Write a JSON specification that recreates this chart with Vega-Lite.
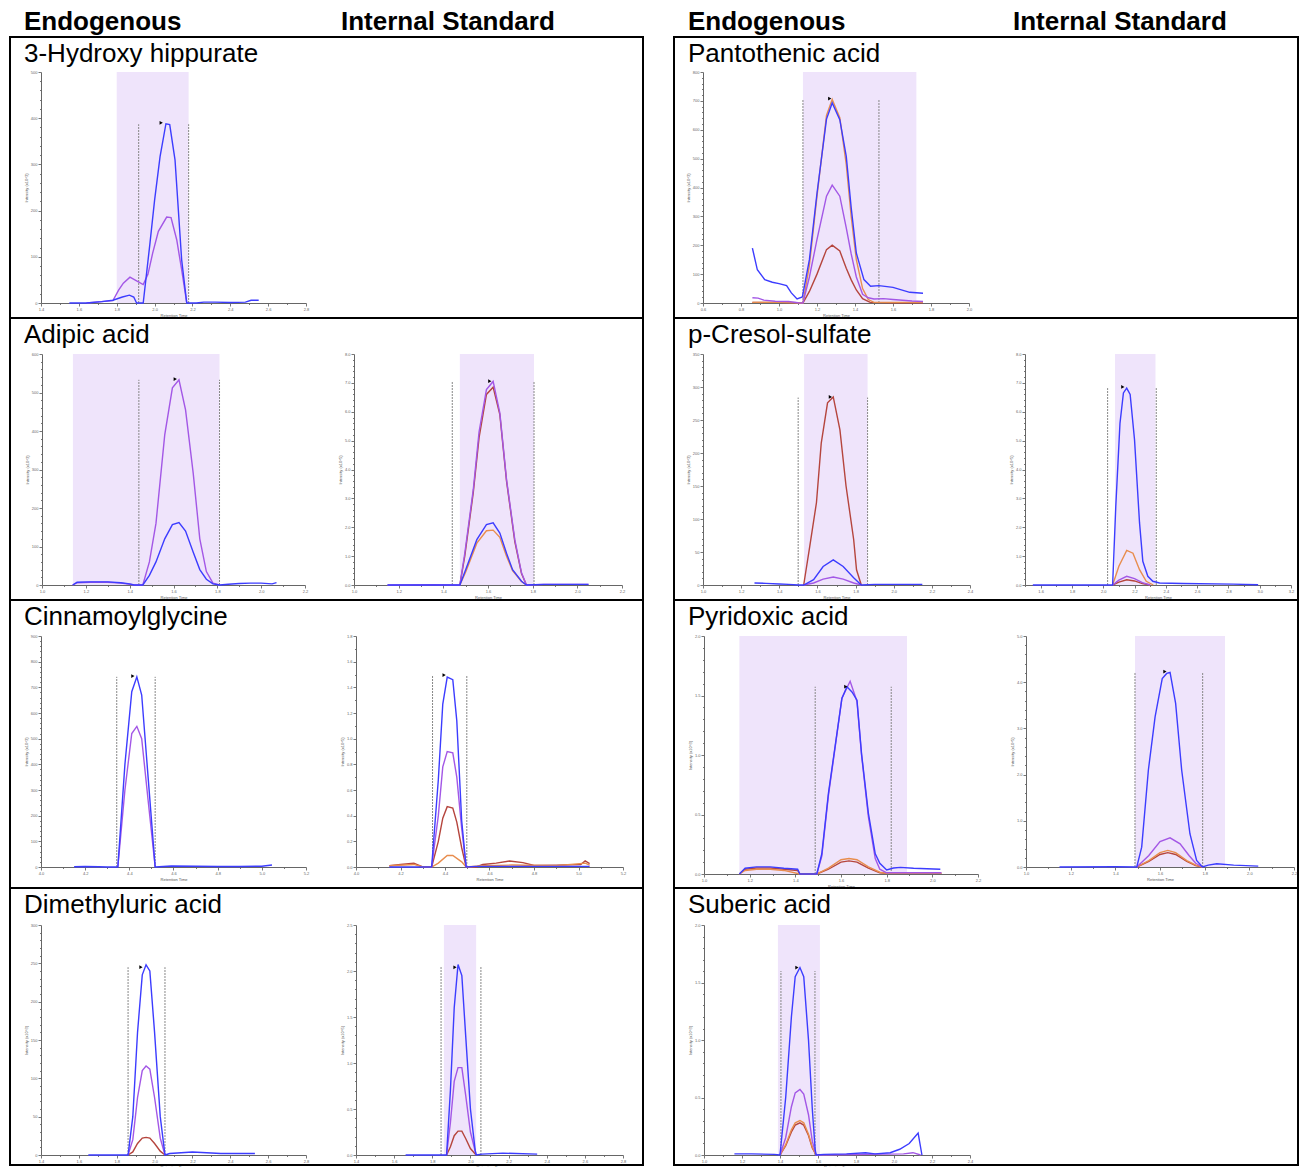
{
"$schema": "https://vega.github.io/schema/vega-lite/v6.json",
"background": "white",
"padding": {"left": 9, "top": 0, "right": 0, "bottom": 0},
"spacing": 29,
"bounds": "full",
"datasets": {
"shades": [
{"p":"L1","t":1.8,"t2":2.18,"v":0,"v2":500},
{"p":"R1","t":1.126,"t2":1.723,"v":0,"v2":800},
{"p":"L2","t":1.141,"t2":1.81,"v":0,"v2":600},
{"p":"L2b","t":1.474,"t2":1.806,"v":0,"v2":8},
{"p":"R2","t":1.53,"t2":1.863,"v":0,"v2":350},
{"p":"R2b","t":2.075,"t2":2.334,"v":0,"v2":8},
{"p":"R3","t":1.155,"t2":1.889,"v":0,"v2":2},
{"p":"R3b","t":1.488,"t2":1.891,"v":0,"v2":5},
{"p":"L4b","t":1.861,"t2":2.03,"v":0,"v2":2.5},
{"p":"R4","t":1.389,"t2":1.61,"v":0,"v2":2}
],
"rules": [
{"p":"L1","t":1.916,"v":0,"v2":387},{"p":"L1","t":2.18,"v":0,"v2":387},
{"p":"R1","t":1.126,"v":0,"v2":704},{"p":"R1","t":1.526,"v":0,"v2":704},
{"p":"L2","t":1.442,"v":0,"v2":533},{"p":"L2","t":1.81,"v":0,"v2":533},
{"p":"L2b","t":1.44,"v":0,"v2":7.05},{"p":"L2b","t":1.806,"v":0,"v2":7.05},
{"p":"R2","t":1.499,"v":0,"v2":284},{"p":"R2","t":1.863,"v":0,"v2":284},
{"p":"R2b","t":2.028,"v":0,"v2":6.82},{"p":"R2b","t":2.339,"v":0,"v2":6.82},
{"p":"L3","t":4.343,"v":0,"v2":741},{"p":"L3","t":4.517,"v":0,"v2":741},
{"p":"L3b","t":4.344,"v":0,"v2":1.49},{"p":"L3b","t":4.498,"v":0,"v2":1.49},
{"p":"R3","t":1.487,"v":0,"v2":1.574},{"p":"R3","t":1.82,"v":0,"v2":1.574},
{"p":"R3b","t":1.488,"v":0,"v2":4.21},{"p":"R3b","t":1.791,"v":0,"v2":4.21},
{"p":"L4","t":1.86,"v":0,"v2":245},{"p":"L4","t":2.055,"v":0,"v2":245},
{"p":"L4b","t":1.846,"v":0,"v2":2.05},{"p":"L4b","t":2.055,"v":0,"v2":2.05},
{"p":"R4","t":1.405,"v":0,"v2":1.6},{"p":"R4","t":1.584,"v":0,"v2":1.6}
],
"markers": [
{"p":"L1","t":2.035,"v":390},{"p":"R1","t":1.267,"v":708},{"p":"L2","t":1.608,"v":535},
{"p":"L2b","t":1.608,"v":7.06},{"p":"R2","t":1.668,"v":285},{"p":"R2b","t":2.125,"v":6.86},
{"p":"L3","t":4.416,"v":744},{"p":"L3b","t":4.396,"v":1.496},{"p":"R3","t":1.621,"v":1.574},
{"p":"R3b","t":1.622,"v":4.23},{"p":"L4","t":1.928,"v":245},{"p":"L4b","t":1.919,"v":2.04},
{"p":"R4","t":1.489,"v":1.63}
],
"traces": [
{"p":"L1","s":"p","t":1.64,"v":0},{"p":"L1","s":"p","t":1.72,"v":3},{"p":"L1","s":"p","t":1.78,"v":5},{"p":"L1","s":"p","t":1.81,"v":28},{"p":"L1","s":"p","t":1.835,"v":43},{"p":"L1","s":"p","t":1.87,"v":56},{"p":"L1","s":"p","t":1.905,"v":48},{"p":"L1","s":"p","t":1.94,"v":40},{"p":"L1","s":"p","t":1.965,"v":62},{"p":"L1","s":"p","t":1.99,"v":108},{"p":"L1","s":"p","t":2.02,"v":155},{"p":"L1","s":"p","t":2.064,"v":186},{"p":"L1","s":"p","t":2.087,"v":185},{"p":"L1","s":"p","t":2.117,"v":137},{"p":"L1","s":"p","t":2.143,"v":72},{"p":"L1","s":"p","t":2.17,"v":0},
{"p":"L1","s":"b","t":1.55,"v":0},{"p":"L1","s":"b","t":1.64,"v":0},{"p":"L1","s":"b","t":1.72,"v":3},{"p":"L1","s":"b","t":1.78,"v":6},{"p":"L1","s":"b","t":1.83,"v":13},{"p":"L1","s":"b","t":1.867,"v":17},{"p":"L1","s":"b","t":1.89,"v":13},{"p":"L1","s":"b","t":1.905,"v":0},{"p":"L1","s":"b","t":1.94,"v":0},{"p":"L1","s":"b","t":1.975,"v":127},{"p":"L1","s":"b","t":2.0,"v":222},{"p":"L1","s":"b","t":2.029,"v":317},{"p":"L1","s":"b","t":2.06,"v":388},{"p":"L1","s":"b","t":2.08,"v":386},{"p":"L1","s":"b","t":2.108,"v":310},{"p":"L1","s":"b","t":2.143,"v":94},{"p":"L1","s":"b","t":2.17,"v":0},{"p":"L1","s":"b","t":2.22,"v":0},{"p":"L1","s":"b","t":2.26,"v":2},{"p":"L1","s":"b","t":2.32,"v":2},{"p":"L1","s":"b","t":2.4,"v":1},{"p":"L1","s":"b","t":2.48,"v":2},{"p":"L1","s":"b","t":2.51,"v":6},{"p":"L1","s":"b","t":2.55,"v":6},

{"p":"R1","s":"r","t":0.86,"v":2},{"p":"R1","s":"r","t":1.0,"v":2},{"p":"R1","s":"r","t":1.1,"v":1},{"p":"R1","s":"r","t":1.126,"v":0},{"p":"R1","s":"r","t":1.16,"v":40},{"p":"R1","s":"r","t":1.2,"v":100},{"p":"R1","s":"r","t":1.25,"v":185},{"p":"R1","s":"r","t":1.28,"v":200},{"p":"R1","s":"r","t":1.32,"v":180},{"p":"R1","s":"r","t":1.354,"v":120},{"p":"R1","s":"r","t":1.38,"v":80},{"p":"R1","s":"r","t":1.407,"v":45},{"p":"R1","s":"r","t":1.44,"v":15},{"p":"R1","s":"r","t":1.48,"v":2},{"p":"R1","s":"r","t":1.6,"v":1},{"p":"R1","s":"r","t":1.758,"v":1},
{"p":"R1","s":"o","t":0.86,"v":2},{"p":"R1","s":"o","t":1.0,"v":2},{"p":"R1","s":"o","t":1.1,"v":1},{"p":"R1","s":"o","t":1.126,"v":0},{"p":"R1","s":"o","t":1.16,"v":130},{"p":"R1","s":"o","t":1.2,"v":370},{"p":"R1","s":"o","t":1.25,"v":650},{"p":"R1","s":"o","t":1.28,"v":705},{"p":"R1","s":"o","t":1.32,"v":642},{"p":"R1","s":"o","t":1.354,"v":480},{"p":"R1","s":"o","t":1.38,"v":300},{"p":"R1","s":"o","t":1.407,"v":150},{"p":"R1","s":"o","t":1.44,"v":50},{"p":"R1","s":"o","t":1.47,"v":12},{"p":"R1","s":"o","t":1.5,"v":2},{"p":"R1","s":"o","t":1.6,"v":2},{"p":"R1","s":"o","t":1.758,"v":2},
{"p":"R1","s":"p","t":0.86,"v":18},{"p":"R1","s":"p","t":0.89,"v":17},{"p":"R1","s":"p","t":0.92,"v":10},{"p":"R1","s":"p","t":0.98,"v":6},{"p":"R1","s":"p","t":1.05,"v":5},{"p":"R1","s":"p","t":1.1,"v":1},{"p":"R1","s":"p","t":1.126,"v":0},{"p":"R1","s":"p","t":1.16,"v":90},{"p":"R1","s":"p","t":1.2,"v":220},{"p":"R1","s":"p","t":1.25,"v":370},{"p":"R1","s":"p","t":1.28,"v":408},{"p":"R1","s":"p","t":1.32,"v":370},{"p":"R1","s":"p","t":1.354,"v":260},{"p":"R1","s":"p","t":1.38,"v":170},{"p":"R1","s":"p","t":1.407,"v":90},{"p":"R1","s":"p","t":1.44,"v":30},{"p":"R1","s":"p","t":1.47,"v":18},{"p":"R1","s":"p","t":1.5,"v":14},{"p":"R1","s":"p","t":1.55,"v":15},{"p":"R1","s":"p","t":1.6,"v":12},{"p":"R1","s":"p","t":1.7,"v":7},{"p":"R1","s":"p","t":1.758,"v":5},
{"p":"R1","s":"b","t":0.86,"v":190},{"p":"R1","s":"b","t":0.886,"v":115},{"p":"R1","s":"b","t":0.925,"v":81},{"p":"R1","s":"b","t":0.965,"v":72},{"p":"R1","s":"b","t":1.0,"v":67},{"p":"R1","s":"b","t":1.04,"v":60},{"p":"R1","s":"b","t":1.065,"v":35},{"p":"R1","s":"b","t":1.095,"v":14},{"p":"R1","s":"b","t":1.123,"v":21},{"p":"R1","s":"b","t":1.16,"v":150},{"p":"R1","s":"b","t":1.2,"v":380},{"p":"R1","s":"b","t":1.25,"v":637},{"p":"R1","s":"b","t":1.28,"v":693},{"p":"R1","s":"b","t":1.32,"v":635},{"p":"R1","s":"b","t":1.354,"v":508},{"p":"R1","s":"b","t":1.38,"v":330},{"p":"R1","s":"b","t":1.407,"v":173},{"p":"R1","s":"b","t":1.447,"v":81},{"p":"R1","s":"b","t":1.482,"v":58},{"p":"R1","s":"b","t":1.526,"v":60},{"p":"R1","s":"b","t":1.6,"v":54},{"p":"R1","s":"b","t":1.688,"v":37},{"p":"R1","s":"b","t":1.758,"v":34},

{"p":"L2","s":"p","t":1.14,"v":0},{"p":"L2","s":"p","t":1.16,"v":6},{"p":"L2","s":"p","t":1.22,"v":7},{"p":"L2","s":"p","t":1.3,"v":7},{"p":"L2","s":"p","t":1.36,"v":5},{"p":"L2","s":"p","t":1.4,"v":2},{"p":"L2","s":"p","t":1.42,"v":0},{"p":"L2","s":"p","t":1.46,"v":0},{"p":"L2","s":"p","t":1.49,"v":60},{"p":"L2","s":"p","t":1.52,"v":160},{"p":"L2","s":"p","t":1.56,"v":390},{"p":"L2","s":"p","t":1.595,"v":512},{"p":"L2","s":"p","t":1.625,"v":533},{"p":"L2","s":"p","t":1.655,"v":455},{"p":"L2","s":"p","t":1.69,"v":290},{"p":"L2","s":"p","t":1.72,"v":120},{"p":"L2","s":"p","t":1.75,"v":35},{"p":"L2","s":"p","t":1.78,"v":5},{"p":"L2","s":"p","t":1.81,"v":0},
{"p":"L2","s":"b","t":1.14,"v":0},{"p":"L2","s":"b","t":1.16,"v":7},{"p":"L2","s":"b","t":1.22,"v":8},{"p":"L2","s":"b","t":1.3,"v":8},{"p":"L2","s":"b","t":1.36,"v":6},{"p":"L2","s":"b","t":1.4,"v":3},{"p":"L2","s":"b","t":1.42,"v":0},{"p":"L2","s":"b","t":1.46,"v":0},{"p":"L2","s":"b","t":1.49,"v":25},{"p":"L2","s":"b","t":1.52,"v":60},{"p":"L2","s":"b","t":1.56,"v":120},{"p":"L2","s":"b","t":1.595,"v":157},{"p":"L2","s":"b","t":1.625,"v":162},{"p":"L2","s":"b","t":1.655,"v":140},{"p":"L2","s":"b","t":1.69,"v":85},{"p":"L2","s":"b","t":1.72,"v":40},{"p":"L2","s":"b","t":1.75,"v":15},{"p":"L2","s":"b","t":1.78,"v":3},{"p":"L2","s":"b","t":1.81,"v":0},{"p":"L2","s":"b","t":1.85,"v":2},{"p":"L2","s":"b","t":1.9,"v":4},{"p":"L2","s":"b","t":1.95,"v":5},{"p":"L2","s":"b","t":2.0,"v":5},{"p":"L2","s":"b","t":2.05,"v":3},{"p":"L2","s":"b","t":2.07,"v":6},

{"p":"L2b","s":"r","t":1.474,"v":0},{"p":"L2b","s":"r","t":1.496,"v":1.0},{"p":"L2b","s":"r","t":1.534,"v":3.2},{"p":"L2b","s":"r","t":1.56,"v":5.1},{"p":"L2b","s":"r","t":1.593,"v":6.6},{"p":"L2b","s":"r","t":1.623,"v":6.85},{"p":"L2b","s":"r","t":1.653,"v":5.9},{"p":"L2b","s":"r","t":1.683,"v":3.6},{"p":"L2b","s":"r","t":1.72,"v":1.5},{"p":"L2b","s":"r","t":1.75,"v":0.4},{"p":"L2b","s":"r","t":1.772,"v":0},
{"p":"L2b","s":"o","t":1.474,"v":0},{"p":"L2b","s":"o","t":1.5,"v":0.45},{"p":"L2b","s":"o","t":1.55,"v":1.45},{"p":"L2b","s":"o","t":1.593,"v":1.88},{"p":"L2b","s":"o","t":1.623,"v":1.9},{"p":"L2b","s":"o","t":1.653,"v":1.65},{"p":"L2b","s":"o","t":1.683,"v":1.0},{"p":"L2b","s":"o","t":1.71,"v":0.5},{"p":"L2b","s":"o","t":1.75,"v":0.12},{"p":"L2b","s":"o","t":1.772,"v":0},
{"p":"L2b","s":"p","t":1.15,"v":0},{"p":"L2b","s":"p","t":1.35,"v":0.01},{"p":"L2b","s":"p","t":1.474,"v":0},{"p":"L2b","s":"p","t":1.496,"v":1.1},{"p":"L2b","s":"p","t":1.534,"v":3.3},{"p":"L2b","s":"p","t":1.56,"v":5.3},{"p":"L2b","s":"p","t":1.593,"v":6.77},{"p":"L2b","s":"p","t":1.623,"v":7.05},{"p":"L2b","s":"p","t":1.653,"v":5.96},{"p":"L2b","s":"p","t":1.683,"v":3.65},{"p":"L2b","s":"p","t":1.72,"v":1.57},{"p":"L2b","s":"p","t":1.75,"v":0.42},{"p":"L2b","s":"p","t":1.772,"v":0},{"p":"L2b","s":"p","t":1.85,"v":0.02},{"p":"L2b","s":"p","t":2.05,"v":0.02},
{"p":"L2b","s":"b","t":1.15,"v":0},{"p":"L2b","s":"b","t":1.35,"v":0},{"p":"L2b","s":"b","t":1.474,"v":0},{"p":"L2b","s":"b","t":1.5,"v":0.53},{"p":"L2b","s":"b","t":1.55,"v":1.57},{"p":"L2b","s":"b","t":1.593,"v":2.09},{"p":"L2b","s":"b","t":1.623,"v":2.15},{"p":"L2b","s":"b","t":1.653,"v":1.8},{"p":"L2b","s":"b","t":1.683,"v":1.1},{"p":"L2b","s":"b","t":1.71,"v":0.53},{"p":"L2b","s":"b","t":1.75,"v":0.13},{"p":"L2b","s":"b","t":1.772,"v":0},{"p":"L2b","s":"b","t":1.85,"v":0.02},{"p":"L2b","s":"b","t":2.05,"v":0.02},

{"p":"R2","s":"r","t":1.528,"v":0},{"p":"R2","s":"r","t":1.56,"v":59},{"p":"R2","s":"r","t":1.595,"v":125},{"p":"R2","s":"r","t":1.62,"v":215},{"p":"R2","s":"r","t":1.653,"v":276},{"p":"R2","s":"r","t":1.683,"v":285},{"p":"R2","s":"r","t":1.718,"v":235},{"p":"R2","s":"r","t":1.75,"v":150},{"p":"R2","s":"r","t":1.79,"v":69},{"p":"R2","s":"r","t":1.805,"v":23},{"p":"R2","s":"r","t":1.83,"v":0},
{"p":"R2","s":"p","t":1.528,"v":0},{"p":"R2","s":"p","t":1.58,"v":3},{"p":"R2","s":"p","t":1.63,"v":9},{"p":"R2","s":"p","t":1.683,"v":12},{"p":"R2","s":"p","t":1.735,"v":9},{"p":"R2","s":"p","t":1.79,"v":3},{"p":"R2","s":"p","t":1.83,"v":0},
{"p":"R2","s":"b","t":1.27,"v":3},{"p":"R2","s":"b","t":1.33,"v":2.5},{"p":"R2","s":"b","t":1.4,"v":1.5},{"p":"R2","s":"b","t":1.45,"v":1},{"p":"R2","s":"b","t":1.5,"v":0},{"p":"R2","s":"b","t":1.528,"v":0},{"p":"R2","s":"b","t":1.58,"v":8},{"p":"R2","s":"b","t":1.63,"v":28},{"p":"R2","s":"b","t":1.683,"v":38},{"p":"R2","s":"b","t":1.735,"v":28},{"p":"R2","s":"b","t":1.79,"v":11},{"p":"R2","s":"b","t":1.83,"v":0},{"p":"R2","s":"b","t":1.9,"v":1},{"p":"R2","s":"b","t":2.0,"v":1},{"p":"R2","s":"b","t":2.15,"v":1},

{"p":"R2b","s":"r","t":2.06,"v":0},{"p":"R2b","s":"r","t":2.1,"v":0.1},{"p":"R2b","s":"r","t":2.15,"v":0.18},{"p":"R2b","s":"r","t":2.2,"v":0.14},{"p":"R2b","s":"r","t":2.25,"v":0.05},{"p":"R2b","s":"r","t":2.3,"v":0},
{"p":"R2b","s":"o","t":2.06,"v":0},{"p":"R2b","s":"o","t":2.1,"v":0.65},{"p":"R2b","s":"o","t":2.15,"v":1.2},{"p":"R2b","s":"o","t":2.19,"v":1.1},{"p":"R2b","s":"o","t":2.232,"v":0.53},{"p":"R2b","s":"o","t":2.275,"v":0.13},{"p":"R2b","s":"o","t":2.32,"v":0},
{"p":"R2b","s":"p","t":2.06,"v":0},{"p":"R2b","s":"p","t":2.1,"v":0.17},{"p":"R2b","s":"p","t":2.15,"v":0.3},{"p":"R2b","s":"p","t":2.2,"v":0.22},{"p":"R2b","s":"p","t":2.25,"v":0.08},{"p":"R2b","s":"p","t":2.3,"v":0},
{"p":"R2b","s":"b","t":1.55,"v":0},{"p":"R2b","s":"b","t":2.06,"v":0},{"p":"R2b","s":"b","t":2.08,"v":2.7},{"p":"R2b","s":"b","t":2.107,"v":5.6},{"p":"R2b","s":"b","t":2.129,"v":6.65},{"p":"R2b","s":"b","t":2.15,"v":6.82},{"p":"R2b","s":"b","t":2.172,"v":6.6},{"p":"R2b","s":"b","t":2.2,"v":5.03},{"p":"R2b","s":"b","t":2.232,"v":2.15},{"p":"R2b","s":"b","t":2.253,"v":0.82},{"p":"R2b","s":"b","t":2.285,"v":0.3},{"p":"R2b","s":"b","t":2.317,"v":0.13},{"p":"R2b","s":"b","t":2.36,"v":0.07},{"p":"R2b","s":"b","t":2.51,"v":0.05},{"p":"R2b","s":"b","t":2.83,"v":0.03},{"p":"R2b","s":"b","t":2.99,"v":0.01},

{"p":"L3","s":"p","t":4.348,"v":0},{"p":"L3","s":"p","t":4.38,"v":300},{"p":"L3","s":"p","t":4.411,"v":520},{"p":"L3","s":"p","t":4.434,"v":548},{"p":"L3","s":"p","t":4.456,"v":500},{"p":"L3","s":"p","t":4.485,"v":260},{"p":"L3","s":"p","t":4.517,"v":0},
{"p":"L3","s":"b","t":4.15,"v":1},{"p":"L3","s":"b","t":4.2,"v":2},{"p":"L3","s":"b","t":4.26,"v":1},{"p":"L3","s":"b","t":4.3,"v":0},{"p":"L3","s":"b","t":4.348,"v":0},{"p":"L3","s":"b","t":4.38,"v":400},{"p":"L3","s":"b","t":4.411,"v":683},{"p":"L3","s":"b","t":4.434,"v":741},{"p":"L3","s":"b","t":4.456,"v":670},{"p":"L3","s":"b","t":4.485,"v":350},{"p":"L3","s":"b","t":4.517,"v":0},{"p":"L3","s":"b","t":4.59,"v":4},{"p":"L3","s":"b","t":4.7,"v":3},{"p":"L3","s":"b","t":4.8,"v":2},{"p":"L3","s":"b","t":4.9,"v":2},{"p":"L3","s":"b","t":5.0,"v":3},{"p":"L3","s":"b","t":5.046,"v":8},

{"p":"L3b","s":"r","t":4.15,"v":0.01},{"p":"L3b","s":"r","t":4.2,"v":0.02},{"p":"L3b","s":"r","t":4.26,"v":0.03},{"p":"L3b","s":"r","t":4.3,"v":0},{"p":"L3b","s":"r","t":4.34,"v":0},{"p":"L3b","s":"r","t":4.37,"v":0.2},{"p":"L3b","s":"r","t":4.39,"v":0.38},{"p":"L3b","s":"r","t":4.41,"v":0.47},{"p":"L3b","s":"r","t":4.435,"v":0.46},{"p":"L3b","s":"r","t":4.453,"v":0.35},{"p":"L3b","s":"r","t":4.475,"v":0.15},{"p":"L3b","s":"r","t":4.495,"v":0},{"p":"L3b","s":"r","t":4.54,"v":0},{"p":"L3b","s":"r","t":4.57,"v":0.02},{"p":"L3b","s":"r","t":4.63,"v":0.03},{"p":"L3b","s":"r","t":4.69,"v":0.047},{"p":"L3b","s":"r","t":4.75,"v":0.034},{"p":"L3b","s":"r","t":4.8,"v":0.013},{"p":"L3b","s":"r","t":4.9,"v":0.015},{"p":"L3b","s":"r","t":5.01,"v":0.02},{"p":"L3b","s":"r","t":5.03,"v":0.047},{"p":"L3b","s":"r","t":5.05,"v":0.026},
{"p":"L3b","s":"o","t":4.15,"v":0.01},{"p":"L3b","s":"o","t":4.26,"v":0.02},{"p":"L3b","s":"o","t":4.3,"v":0},{"p":"L3b","s":"o","t":4.34,"v":0},{"p":"L3b","s":"o","t":4.37,"v":0.03},{"p":"L3b","s":"o","t":4.41,"v":0.09},{"p":"L3b","s":"o","t":4.435,"v":0.09},{"p":"L3b","s":"o","t":4.475,"v":0.04},{"p":"L3b","s":"o","t":4.495,"v":0},{"p":"L3b","s":"o","t":4.57,"v":0.01},{"p":"L3b","s":"o","t":4.7,"v":0.015},{"p":"L3b","s":"o","t":4.9,"v":0.01},{"p":"L3b","s":"o","t":5.03,"v":0.03},{"p":"L3b","s":"o","t":5.05,"v":0.015},
{"p":"L3b","s":"p","t":4.34,"v":0},{"p":"L3b","s":"p","t":4.37,"v":0.4},{"p":"L3b","s":"p","t":4.39,"v":0.78},{"p":"L3b","s":"p","t":4.41,"v":0.9},{"p":"L3b","s":"p","t":4.435,"v":0.89},{"p":"L3b","s":"p","t":4.453,"v":0.7},{"p":"L3b","s":"p","t":4.475,"v":0.3},{"p":"L3b","s":"p","t":4.495,"v":0},
{"p":"L3b","s":"b","t":4.15,"v":0},{"p":"L3b","s":"b","t":4.3,"v":0},{"p":"L3b","s":"b","t":4.34,"v":0},{"p":"L3b","s":"b","t":4.37,"v":0.68},{"p":"L3b","s":"b","t":4.39,"v":1.27},{"p":"L3b","s":"b","t":4.41,"v":1.48},{"p":"L3b","s":"b","t":4.435,"v":1.46},{"p":"L3b","s":"b","t":4.453,"v":1.14},{"p":"L3b","s":"b","t":4.475,"v":0.36},{"p":"L3b","s":"b","t":4.495,"v":0},{"p":"L3b","s":"b","t":4.54,"v":0.005},{"p":"L3b","s":"b","t":5.05,"v":0.005},

{"p":"R3","s":"r","t":1.155,"v":0},{"p":"R3","s":"r","t":1.18,"v":0.04},{"p":"R3","s":"r","t":1.23,"v":0.05},{"p":"R3","s":"r","t":1.29,"v":0.05},{"p":"R3","s":"r","t":1.35,"v":0.04},{"p":"R3","s":"r","t":1.41,"v":0.03},{"p":"R3","s":"r","t":1.42,"v":0},{"p":"R3","s":"r","t":1.494,"v":0},{"p":"R3","s":"r","t":1.545,"v":0.04},{"p":"R3","s":"r","t":1.6,"v":0.1},{"p":"R3","s":"r","t":1.635,"v":0.11},{"p":"R3","s":"r","t":1.67,"v":0.1},{"p":"R3","s":"r","t":1.72,"v":0.05},{"p":"R3","s":"r","t":1.77,"v":0.01},{"p":"R3","s":"r","t":1.8,"v":0.005},{"p":"R3","s":"r","t":2.04,"v":0.005},
{"p":"R3","s":"o","t":1.155,"v":0},{"p":"R3","s":"o","t":1.18,"v":0.03},{"p":"R3","s":"o","t":1.23,"v":0.04},{"p":"R3","s":"o","t":1.29,"v":0.04},{"p":"R3","s":"o","t":1.35,"v":0.03},{"p":"R3","s":"o","t":1.42,"v":0},{"p":"R3","s":"o","t":1.494,"v":0},{"p":"R3","s":"o","t":1.545,"v":0.05},{"p":"R3","s":"o","t":1.6,"v":0.12},{"p":"R3","s":"o","t":1.635,"v":0.13},{"p":"R3","s":"o","t":1.67,"v":0.12},{"p":"R3","s":"o","t":1.72,"v":0.06},{"p":"R3","s":"o","t":1.77,"v":0.015},{"p":"R3","s":"o","t":1.8,"v":0.005},{"p":"R3","s":"o","t":2.04,"v":0.005},
{"p":"R3","s":"p","t":1.494,"v":0},{"p":"R3","s":"p","t":1.516,"v":0.15},{"p":"R3","s":"p","t":1.545,"v":0.66},{"p":"R3","s":"p","t":1.574,"v":1.06},{"p":"R3","s":"p","t":1.604,"v":1.48},{"p":"R3","s":"p","t":1.64,"v":1.62},{"p":"R3","s":"p","t":1.67,"v":1.45},{"p":"R3","s":"p","t":1.69,"v":1.0},{"p":"R3","s":"p","t":1.72,"v":0.48},{"p":"R3","s":"p","t":1.75,"v":0.13},{"p":"R3","s":"p","t":1.77,"v":0.04},{"p":"R3","s":"p","t":1.8,"v":0.01},{"p":"R3","s":"p","t":1.9,"v":0.01},{"p":"R3","s":"p","t":2.04,"v":0.01},
{"p":"R3","s":"b","t":1.155,"v":0},{"p":"R3","s":"b","t":1.18,"v":0.048},{"p":"R3","s":"b","t":1.23,"v":0.06},{"p":"R3","s":"b","t":1.29,"v":0.06},{"p":"R3","s":"b","t":1.35,"v":0.048},{"p":"R3","s":"b","t":1.41,"v":0.04},{"p":"R3","s":"b","t":1.42,"v":0},{"p":"R3","s":"b","t":1.494,"v":0},{"p":"R3","s":"b","t":1.516,"v":0.17},{"p":"R3","s":"b","t":1.545,"v":0.68},{"p":"R3","s":"b","t":1.574,"v":1.07},{"p":"R3","s":"b","t":1.604,"v":1.476},{"p":"R3","s":"b","t":1.626,"v":1.574},{"p":"R3","s":"b","t":1.648,"v":1.53},{"p":"R3","s":"b","t":1.67,"v":1.46},{"p":"R3","s":"b","t":1.69,"v":1.01},{"p":"R3","s":"b","t":1.72,"v":0.51},{"p":"R3","s":"b","t":1.75,"v":0.17},{"p":"R3","s":"b","t":1.77,"v":0.09},{"p":"R3","s":"b","t":1.8,"v":0.034},{"p":"R3","s":"b","t":1.83,"v":0.05},{"p":"R3","s":"b","t":1.86,"v":0.056},{"p":"R3","s":"b","t":1.918,"v":0.048},{"p":"R3","s":"b","t":2.035,"v":0.04},

{"p":"R3b","s":"r","t":1.496,"v":0},{"p":"R3b","s":"r","t":1.55,"v":0.12},{"p":"R3b","s":"r","t":1.6,"v":0.27},{"p":"R3b","s":"r","t":1.635,"v":0.31},{"p":"R3b","s":"r","t":1.67,"v":0.27},{"p":"R3b","s":"r","t":1.72,"v":0.12},{"p":"R3b","s":"r","t":1.76,"v":0.03},{"p":"R3b","s":"r","t":1.79,"v":0},
{"p":"R3b","s":"o","t":1.496,"v":0},{"p":"R3b","s":"o","t":1.55,"v":0.14},{"p":"R3b","s":"o","t":1.6,"v":0.31},{"p":"R3b","s":"o","t":1.635,"v":0.36},{"p":"R3b","s":"o","t":1.67,"v":0.31},{"p":"R3b","s":"o","t":1.72,"v":0.14},{"p":"R3b","s":"o","t":1.76,"v":0.04},{"p":"R3b","s":"o","t":1.79,"v":0},
{"p":"R3b","s":"p","t":1.496,"v":0},{"p":"R3b","s":"p","t":1.55,"v":0.25},{"p":"R3b","s":"p","t":1.6,"v":0.55},{"p":"R3b","s":"p","t":1.645,"v":0.63},{"p":"R3b","s":"p","t":1.69,"v":0.5},{"p":"R3b","s":"p","t":1.73,"v":0.25},{"p":"R3b","s":"p","t":1.76,"v":0.08},{"p":"R3b","s":"p","t":1.79,"v":0},
{"p":"R3b","s":"b","t":1.15,"v":0},{"p":"R3b","s":"b","t":1.4,"v":0.005},{"p":"R3b","s":"b","t":1.496,"v":0},{"p":"R3b","s":"b","t":1.518,"v":0.43},{"p":"R3b","s":"b","t":1.548,"v":2.1},{"p":"R3b","s":"b","t":1.578,"v":3.25},{"p":"R3b","s":"b","t":1.61,"v":4.08},{"p":"R3b","s":"b","t":1.63,"v":4.19},{"p":"R3b","s":"b","t":1.645,"v":4.21},{"p":"R3b","s":"b","t":1.67,"v":3.54},{"p":"R3b","s":"b","t":1.697,"v":2.1},{"p":"R3b","s":"b","t":1.734,"v":0.72},{"p":"R3b","s":"b","t":1.764,"v":0.14},{"p":"R3b","s":"b","t":1.79,"v":0},{"p":"R3b","s":"b","t":1.816,"v":0.04},{"p":"R3b","s":"b","t":1.854,"v":0.07},{"p":"R3b","s":"b","t":1.93,"v":0.04},{"p":"R3b","s":"b","t":2.04,"v":0.02},

{"p":"L4","s":"r","t":1.86,"v":0},{"p":"L4","s":"r","t":1.885,"v":4},{"p":"L4","s":"r","t":1.91,"v":15},{"p":"L4","s":"r","t":1.935,"v":22},{"p":"L4","s":"r","t":1.955,"v":23},{"p":"L4","s":"r","t":1.975,"v":22},{"p":"L4","s":"r","t":2.0,"v":15},{"p":"L4","s":"r","t":2.03,"v":5},{"p":"L4","s":"r","t":2.055,"v":0},
{"p":"L4","s":"p","t":1.86,"v":0},{"p":"L4","s":"p","t":1.885,"v":20},{"p":"L4","s":"p","t":1.91,"v":75},{"p":"L4","s":"p","t":1.935,"v":110},{"p":"L4","s":"p","t":1.955,"v":116},{"p":"L4","s":"p","t":1.975,"v":112},{"p":"L4","s":"p","t":2.0,"v":75},{"p":"L4","s":"p","t":2.03,"v":22},{"p":"L4","s":"p","t":2.055,"v":0},
{"p":"L4","s":"b","t":1.65,"v":0},{"p":"L4","s":"b","t":1.86,"v":0},{"p":"L4","s":"b","t":1.885,"v":50},{"p":"L4","s":"b","t":1.91,"v":160},{"p":"L4","s":"b","t":1.935,"v":235},{"p":"L4","s":"b","t":1.955,"v":248},{"p":"L4","s":"b","t":1.975,"v":240},{"p":"L4","s":"b","t":2.0,"v":160},{"p":"L4","s":"b","t":2.03,"v":50},{"p":"L4","s":"b","t":2.055,"v":0},{"p":"L4","s":"b","t":2.08,"v":2},{"p":"L4","s":"b","t":2.2,"v":4},{"p":"L4","s":"b","t":2.35,"v":2},{"p":"L4","s":"b","t":2.53,"v":2},

{"p":"L4b","s":"r","t":1.875,"v":0},{"p":"L4b","s":"r","t":1.895,"v":0.09},{"p":"L4b","s":"r","t":1.915,"v":0.21},{"p":"L4b","s":"r","t":1.935,"v":0.26},{"p":"L4b","s":"r","t":1.955,"v":0.26},{"p":"L4b","s":"r","t":1.975,"v":0.18},{"p":"L4b","s":"r","t":2.0,"v":0.07},{"p":"L4b","s":"r","t":2.03,"v":0},
{"p":"L4b","s":"p","t":1.875,"v":0},{"p":"L4b","s":"p","t":1.895,"v":0.35},{"p":"L4b","s":"p","t":1.915,"v":0.8},{"p":"L4b","s":"p","t":1.935,"v":0.95},{"p":"L4b","s":"p","t":1.955,"v":0.95},{"p":"L4b","s":"p","t":1.975,"v":0.65},{"p":"L4b","s":"p","t":2.0,"v":0.25},{"p":"L4b","s":"p","t":2.03,"v":0},
{"p":"L4b","s":"b","t":1.66,"v":0},{"p":"L4b","s":"b","t":1.875,"v":0},{"p":"L4b","s":"b","t":1.895,"v":0.7},{"p":"L4b","s":"b","t":1.915,"v":1.6},{"p":"L4b","s":"b","t":1.935,"v":2.07},{"p":"L4b","s":"b","t":1.955,"v":1.95},{"p":"L4b","s":"b","t":1.975,"v":1.3},{"p":"L4b","s":"b","t":2.0,"v":0.5},{"p":"L4b","s":"b","t":2.025,"v":0.05},{"p":"L4b","s":"b","t":2.03,"v":0},{"p":"L4b","s":"b","t":2.06,"v":0.01},{"p":"L4b","s":"b","t":2.17,"v":0.02},{"p":"L4b","s":"b","t":2.35,"v":0.01},

{"p":"R4","s":"r","t":1.4,"v":0},{"p":"R4","s":"r","t":1.43,"v":0.08},{"p":"R4","s":"r","t":1.46,"v":0.2},{"p":"R4","s":"r","t":1.48,"v":0.26},{"p":"R4","s":"r","t":1.505,"v":0.28},{"p":"R4","s":"r","t":1.525,"v":0.26},{"p":"R4","s":"r","t":1.55,"v":0.17},{"p":"R4","s":"r","t":1.57,"v":0.06},{"p":"R4","s":"r","t":1.59,"v":0},
{"p":"R4","s":"o","t":1.4,"v":0},{"p":"R4","s":"o","t":1.43,"v":0.09},{"p":"R4","s":"o","t":1.46,"v":0.22},{"p":"R4","s":"o","t":1.48,"v":0.28},{"p":"R4","s":"o","t":1.505,"v":0.3},{"p":"R4","s":"o","t":1.525,"v":0.28},{"p":"R4","s":"o","t":1.55,"v":0.18},{"p":"R4","s":"o","t":1.57,"v":0.07},{"p":"R4","s":"o","t":1.59,"v":0},
{"p":"R4","s":"p","t":1.4,"v":0},{"p":"R4","s":"p","t":1.43,"v":0.15},{"p":"R4","s":"p","t":1.46,"v":0.42},{"p":"R4","s":"p","t":1.48,"v":0.54},{"p":"R4","s":"p","t":1.505,"v":0.57},{"p":"R4","s":"p","t":1.525,"v":0.53},{"p":"R4","s":"p","t":1.55,"v":0.35},{"p":"R4","s":"p","t":1.57,"v":0.12},{"p":"R4","s":"p","t":1.59,"v":0},{"p":"R4","s":"p","t":2.05,"v":0.01},{"p":"R4","s":"p","t":2.1,"v":0.02},{"p":"R4","s":"p","t":2.14,"v":0},
{"p":"R4","s":"b","t":1.16,"v":0.01},{"p":"R4","s":"b","t":1.25,"v":0.01},{"p":"R4","s":"b","t":1.37,"v":0.005},{"p":"R4","s":"b","t":1.4,"v":0},{"p":"R4","s":"b","t":1.43,"v":0.5},{"p":"R4","s":"b","t":1.46,"v":1.2},{"p":"R4","s":"b","t":1.48,"v":1.55},{"p":"R4","s":"b","t":1.505,"v":1.63},{"p":"R4","s":"b","t":1.525,"v":1.55},{"p":"R4","s":"b","t":1.55,"v":1.0},{"p":"R4","s":"b","t":1.57,"v":0.4},{"p":"R4","s":"b","t":1.585,"v":0.05},{"p":"R4","s":"b","t":1.59,"v":0},{"p":"R4","s":"b","t":1.63,"v":0.005},{"p":"R4","s":"b","t":1.75,"v":0.01},{"p":"R4","s":"b","t":1.85,"v":0.02},{"p":"R4","s":"b","t":1.9,"v":0.01},{"p":"R4","s":"b","t":1.98,"v":0.02},{"p":"R4","s":"b","t":2.03,"v":0.05},{"p":"R4","s":"b","t":2.08,"v":0.1},{"p":"R4","s":"b","t":2.127,"v":0.19},{"p":"R4","s":"b","t":2.147,"v":0}
]
},
"hconcat": [
{"vconcat": [
 {"width": 633, "height": 37, "view": {"stroke": null},
  "data": {"values": [{"h": "Endogenous"}, {"h": "Internal Standard"}]},
  "mark": {"type": "text", "align": "left", "baseline": "alphabetic", "dy": 11.5, "fontSize": 26, "font": "Liberation Sans", "fontWeight": "bold", "color": "#000"},
  "encoding": {"x": {"field": "h", "type": "nominal", "scale": {"type": "point", "domain": ["Endogenous", "Internal Standard"], "range": [14, 331], "padding": 0}, "axis": null}, "text": {"field": "h"}}},
 {"width": 633, "height": 281, "title": {"text": "3-Hydroxy hippurate"},
  "layer": [
   {"encoding": {
     "x": {"field": "t", "type": "quantitative", "scale": {"domain": [1.4, 2.8], "range": [31, 296], "nice": false, "zero": false}, "axis": {"orient": "bottom", "offset": -15, "tickCount": 14, "labelExpr": "abs(datum.value/0.2-round(datum.value/0.2))<0.001?datum.label:''", "tickSize": {"condition": {"test": "abs(datum.value/0.2-round(datum.value/0.2))<0.001", "value": 3}, "value": 1.5}, "title": "Retention Time"}},
     "y": {"field": "v", "type": "quantitative", "scale": {"domain": [0, 500], "range": [266, 35], "nice": false, "zero": false}, "axis": {"orient": "left", "offset": -31, "tickCount": 25, "labelExpr": "abs(datum.value/100-round(datum.value/100))<0.001?datum.label:''", "tickSize": {"condition": {"test": "abs(datum.value/100-round(datum.value/100))<0.001", "value": 3}, "value": 1.5}, "title": "Intensity (x10^3)"}}},
    "layer": [
     {"data": {"name": "shades"}, "transform": [{"filter": "datum.p==='L1'"}], "mark": {"type": "rect", "color": "#efe4fb"}, "encoding": {"x2": {"field": "t2"}, "y2": {"field": "v2"}}},
     {"data": {"name": "rules"}, "transform": [{"filter": "datum.p==='L1'"}], "mark": {"type": "rule", "color": "#888", "strokeWidth": 1, "strokeDash": [2, 1]}, "encoding": {"y2": {"field": "v2"}}},
     {"data": {"name": "traces"}, "transform": [{"filter": "datum.p==='L1'"}], "mark": {"type": "line", "strokeWidth": 1.4}, "encoding": {"color": {"field": "s", "type": "nominal", "scale": {"domain": ["r", "o", "p", "b"], "range": ["#b5453d", "#e88d4e", "#a357e6", "#3c3cff"]}, "legend": null}}},
     {"data": {"name": "markers"}, "transform": [{"filter": "datum.p==='L1'"}], "mark": {"type": "point", "shape": "triangle-right", "filled": true, "color": "#000", "size": 14, "opacity": 1}}
    ]}
  ]},
 {"width": 633, "height": 282, "title": {"text": "Adipic acid"},
  "resolve": {"scale": {"x": "independent", "y": "independent"}},
  "layer": [
   {"encoding": {
     "x": {"field": "t", "type": "quantitative", "scale": {"domain": [1.0, 2.2], "range": [32, 295], "nice": false, "zero": false}, "axis": {"orient": "bottom", "offset": -15, "tickCount": 12, "labelExpr": "abs(datum.value/0.2-round(datum.value/0.2))<0.001?datum.label:''", "tickSize": {"condition": {"test": "abs(datum.value/0.2-round(datum.value/0.2))<0.001", "value": 3}, "value": 1.5}, "title": "Retention Time"}},
     "y": {"field": "v", "type": "quantitative", "scale": {"domain": [0, 600], "range": [267, 36], "nice": false, "zero": false}, "axis": {"orient": "left", "offset": -32, "tickCount": 30, "labelExpr": "abs(datum.value/100-round(datum.value/100))<0.001?datum.label:''", "tickSize": {"condition": {"test": "abs(datum.value/100-round(datum.value/100))<0.001", "value": 3}, "value": 1.5}, "title": "Intensity (x10^3)"}}},
    "layer": [
     {"data": {"name": "shades"}, "transform": [{"filter": "datum.p==='L2'"}], "mark": {"type": "rect", "color": "#efe4fb"}, "encoding": {"x2": {"field": "t2"}, "y2": {"field": "v2"}}},
     {"data": {"name": "rules"}, "transform": [{"filter": "datum.p==='L2'"}], "mark": {"type": "rule", "color": "#888", "strokeWidth": 1, "strokeDash": [2, 1]}, "encoding": {"y2": {"field": "v2"}}},
     {"data": {"name": "traces"}, "transform": [{"filter": "datum.p==='L2'"}], "mark": {"type": "line", "strokeWidth": 1.4}, "encoding": {"color": {"field": "s", "type": "nominal", "scale": {"domain": ["r", "o", "p", "b"], "range": ["#b5453d", "#e88d4e", "#a357e6", "#3c3cff"]}, "legend": null}}},
     {"data": {"name": "markers"}, "transform": [{"filter": "datum.p==='L2'"}], "mark": {"type": "point", "shape": "triangle-right", "filled": true, "color": "#000", "size": 14, "opacity": 1}}
    ]},
   {"encoding": {
     "x": {"field": "t", "type": "quantitative", "scale": {"domain": [1.0, 2.2], "range": [344, 612], "nice": false, "zero": false}, "axis": {"orient": "bottom", "offset": -15, "tickCount": 12, "labelExpr": "abs(datum.value/0.2-round(datum.value/0.2))<0.001?datum.label:''", "tickSize": {"condition": {"test": "abs(datum.value/0.2-round(datum.value/0.2))<0.001", "value": 3}, "value": 1.5}, "title": "Retention Time"}},
     "y": {"field": "v", "type": "quantitative", "scale": {"domain": [0, 8], "range": [267, 36], "nice": false, "zero": false}, "axis": {"orient": "left", "offset": -344, "tickCount": 40, "labelExpr": "abs(datum.value/1-round(datum.value/1))<0.001?datum.label:''", "tickSize": {"condition": {"test": "abs(datum.value/1-round(datum.value/1))<0.001", "value": 3}, "value": 1.5}, "title": "Intensity (x10^5)"}}},
    "layer": [
     {"data": {"name": "shades"}, "transform": [{"filter": "datum.p==='L2b'"}], "mark": {"type": "rect", "color": "#efe4fb"}, "encoding": {"x2": {"field": "t2"}, "y2": {"field": "v2"}}},
     {"data": {"name": "rules"}, "transform": [{"filter": "datum.p==='L2b'"}], "mark": {"type": "rule", "color": "#888", "strokeWidth": 1, "strokeDash": [2, 1]}, "encoding": {"y2": {"field": "v2"}}},
     {"data": {"name": "traces"}, "transform": [{"filter": "datum.p==='L2b'"}], "mark": {"type": "line", "strokeWidth": 1.4}, "encoding": {"color": {"field": "s", "type": "nominal", "scale": {"domain": ["r", "o", "p", "b"], "range": ["#b5453d", "#e88d4e", "#a357e6", "#3c3cff"]}, "legend": null}}},
     {"data": {"name": "markers"}, "transform": [{"filter": "datum.p==='L2b'"}], "mark": {"type": "point", "shape": "triangle-right", "filled": true, "color": "#000", "size": 14, "opacity": 1}}
    ]}
  ]},
 {"width": 633, "height": 288, "title": {"text": "Cinnamoylglycine"},
  "resolve": {"scale": {"x": "independent", "y": "independent"}},
  "layer": [
   {"encoding": {
     "x": {"field": "t", "type": "quantitative", "scale": {"domain": [4.0, 5.2], "range": [31, 296], "nice": false, "zero": false}, "axis": {"orient": "bottom", "offset": -21, "tickCount": 12, "labelExpr": "abs(datum.value/0.2-round(datum.value/0.2))<0.001?datum.label:''", "tickSize": {"condition": {"test": "abs(datum.value/0.2-round(datum.value/0.2))<0.001", "value": 3}, "value": 1.5}, "title": "Retention Time"}},
     "y": {"field": "v", "type": "quantitative", "scale": {"domain": [0, 900], "range": [267, 36], "nice": false, "zero": false}, "axis": {"orient": "left", "offset": -31, "tickCount": 45, "labelExpr": "abs(datum.value/100-round(datum.value/100))<0.001?datum.label:''", "tickSize": {"condition": {"test": "abs(datum.value/100-round(datum.value/100))<0.001", "value": 3}, "value": 1.5}, "title": "Intensity (x10^3)"}}},
    "layer": [
     {"data": {"name": "rules"}, "transform": [{"filter": "datum.p==='L3'"}], "mark": {"type": "rule", "color": "#888", "strokeWidth": 1, "strokeDash": [2, 1]}, "encoding": {"y2": {"field": "v2"}}},
     {"data": {"name": "traces"}, "transform": [{"filter": "datum.p==='L3'"}], "mark": {"type": "line", "strokeWidth": 1.4}, "encoding": {"color": {"field": "s", "type": "nominal", "scale": {"domain": ["r", "o", "p", "b"], "range": ["#b5453d", "#e88d4e", "#a357e6", "#3c3cff"]}, "legend": null}}},
     {"data": {"name": "markers"}, "transform": [{"filter": "datum.p==='L3'"}], "mark": {"type": "point", "shape": "triangle-right", "filled": true, "color": "#000", "size": 14, "opacity": 1}}
    ]},
   {"encoding": {
     "x": {"field": "t", "type": "quantitative", "scale": {"domain": [4.0, 5.2], "range": [346, 613], "nice": false, "zero": false}, "axis": {"orient": "bottom", "offset": -21, "tickCount": 12, "labelExpr": "abs(datum.value/0.2-round(datum.value/0.2))<0.001?datum.label:''", "tickSize": {"condition": {"test": "abs(datum.value/0.2-round(datum.value/0.2))<0.001", "value": 3}, "value": 1.5}, "title": "Retention Time"}},
     "y": {"field": "v", "type": "quantitative", "scale": {"domain": [0, 1.8], "range": [267, 36], "nice": false, "zero": false}, "axis": {"orient": "left", "offset": -346, "tickCount": 18, "labelExpr": "abs(datum.value/0.2-round(datum.value/0.2))<0.001?datum.label:''", "tickSize": {"condition": {"test": "abs(datum.value/0.2-round(datum.value/0.2))<0.001", "value": 3}, "value": 1.5}, "title": "Intensity (x10^5)"}}},
    "layer": [
     {"data": {"name": "rules"}, "transform": [{"filter": "datum.p==='L3b'"}], "mark": {"type": "rule", "color": "#888", "strokeWidth": 1, "strokeDash": [2, 1]}, "encoding": {"y2": {"field": "v2"}}},
     {"data": {"name": "traces"}, "transform": [{"filter": "datum.p==='L3b'"}], "mark": {"type": "line", "strokeWidth": 1.4}, "encoding": {"color": {"field": "s", "type": "nominal", "scale": {"domain": ["r", "o", "p", "b"], "range": ["#b5453d", "#e88d4e", "#a357e6", "#3c3cff"]}, "legend": null}}},
     {"data": {"name": "markers"}, "transform": [{"filter": "datum.p==='L3b'"}], "mark": {"type": "point", "shape": "triangle-right", "filled": true, "color": "#000", "size": 14, "opacity": 1}}
    ]}
  ]},
 {"width": 633, "height": 277, "title": {"text": "Dimethyluric acid"},
  "resolve": {"scale": {"x": "independent", "y": "independent"}},
  "layer": [
   {"encoding": {
     "x": {"field": "t", "type": "quantitative", "scale": {"domain": [1.4, 2.8], "range": [31, 296], "nice": false, "zero": false}, "axis": {"orient": "bottom", "offset": -10, "tickCount": 14, "labelExpr": "abs(datum.value/0.2-round(datum.value/0.2))<0.001?datum.label:''", "tickSize": {"condition": {"test": "abs(datum.value/0.2-round(datum.value/0.2))<0.001", "value": 3}, "value": 1.5}, "title": "Retention Time"}},
     "y": {"field": "v", "type": "quantitative", "scale": {"domain": [0, 300], "range": [267, 37], "nice": false, "zero": false}, "axis": {"orient": "left", "offset": -31, "tickCount": 30, "labelExpr": "abs(datum.value/50-round(datum.value/50))<0.001?datum.label:''", "tickSize": {"condition": {"test": "abs(datum.value/50-round(datum.value/50))<0.001", "value": 3}, "value": 1.5}, "title": "Intensity (x10^3)"}}},
    "layer": [
     {"data": {"name": "rules"}, "transform": [{"filter": "datum.p==='L4'"}], "mark": {"type": "rule", "color": "#888", "strokeWidth": 1, "strokeDash": [2, 1]}, "encoding": {"y2": {"field": "v2"}}},
     {"data": {"name": "traces"}, "transform": [{"filter": "datum.p==='L4'"}], "mark": {"type": "line", "strokeWidth": 1.4}, "encoding": {"color": {"field": "s", "type": "nominal", "scale": {"domain": ["r", "o", "p", "b"], "range": ["#b5453d", "#e88d4e", "#a357e6", "#3c3cff"]}, "legend": null}}},
     {"data": {"name": "markers"}, "transform": [{"filter": "datum.p==='L4'"}], "mark": {"type": "point", "shape": "triangle-right", "filled": true, "color": "#000", "size": 14, "opacity": 1}}
    ]},
   {"encoding": {
     "x": {"field": "t", "type": "quantitative", "scale": {"domain": [1.4, 2.8], "range": [346, 613], "nice": false, "zero": false}, "axis": {"orient": "bottom", "offset": -10, "tickCount": 14, "labelExpr": "abs(datum.value/0.2-round(datum.value/0.2))<0.001?datum.label:''", "tickSize": {"condition": {"test": "abs(datum.value/0.2-round(datum.value/0.2))<0.001", "value": 3}, "value": 1.5}, "title": "Retention Time"}},
     "y": {"field": "v", "type": "quantitative", "scale": {"domain": [0, 2.5], "range": [267, 37], "nice": false, "zero": false}, "axis": {"orient": "left", "offset": -346, "tickCount": 25, "labelExpr": "abs(datum.value/0.5-round(datum.value/0.5))<0.001?datum.label:''", "tickSize": {"condition": {"test": "abs(datum.value/0.5-round(datum.value/0.5))<0.001", "value": 3}, "value": 1.5}, "title": "Intensity (x10^5)"}}},
    "layer": [
     {"data": {"name": "shades"}, "transform": [{"filter": "datum.p==='L4b'"}], "mark": {"type": "rect", "color": "#efe4fb"}, "encoding": {"x2": {"field": "t2"}, "y2": {"field": "v2"}}},
     {"data": {"name": "rules"}, "transform": [{"filter": "datum.p==='L4b'"}], "mark": {"type": "rule", "color": "#888", "strokeWidth": 1, "strokeDash": [2, 1]}, "encoding": {"y2": {"field": "v2"}}},
     {"data": {"name": "traces"}, "transform": [{"filter": "datum.p==='L4b'"}], "mark": {"type": "line", "strokeWidth": 1.4}, "encoding": {"color": {"field": "s", "type": "nominal", "scale": {"domain": ["r", "o", "p", "b"], "range": ["#b5453d", "#e88d4e", "#a357e6", "#3c3cff"]}, "legend": null}}},
     {"data": {"name": "markers"}, "transform": [{"filter": "datum.p==='L4b'"}], "mark": {"type": "point", "shape": "triangle-right", "filled": true, "color": "#000", "size": 14, "opacity": 1}}
    ]}
  ]}
], "spacing": 0, "bounds": "flush"},
{"vconcat": [
 {"width": 624, "height": 37, "view": {"stroke": null},
  "data": {"values": [{"h": "Endogenous"}, {"h": "Internal Standard"}]},
  "mark": {"type": "text", "align": "left", "baseline": "alphabetic", "dy": 11.5, "fontSize": 26, "font": "Liberation Sans", "fontWeight": "bold", "color": "#000"},
  "encoding": {"x": {"field": "h", "type": "nominal", "scale": {"type": "point", "domain": ["Endogenous", "Internal Standard"], "range": [14, 339], "padding": 0}, "axis": null}, "text": {"field": "h"}}},
 {"width": 624, "height": 281, "title": {"text": "Pantothenic acid"},
  "layer": [
   {"encoding": {
     "x": {"field": "t", "type": "quantitative", "scale": {"domain": [0.6, 2.0], "range": [29, 295], "nice": false, "zero": false}, "axis": {"orient": "bottom", "offset": -15, "tickCount": 14, "labelExpr": "abs(datum.value/0.2-round(datum.value/0.2))<0.001?datum.label:''", "tickSize": {"condition": {"test": "abs(datum.value/0.2-round(datum.value/0.2))<0.001", "value": 3}, "value": 1.5}, "title": "Retention Time"}},
     "y": {"field": "v", "type": "quantitative", "scale": {"domain": [0, 800], "range": [266, 35], "nice": false, "zero": false}, "axis": {"orient": "left", "offset": -29, "tickCount": 40, "labelExpr": "abs(datum.value/100-round(datum.value/100))<0.001?datum.label:''", "tickSize": {"condition": {"test": "abs(datum.value/100-round(datum.value/100))<0.001", "value": 3}, "value": 1.5}, "title": "Intensity (x10^3)"}}},
    "layer": [
     {"data": {"name": "shades"}, "transform": [{"filter": "datum.p==='R1'"}], "mark": {"type": "rect", "color": "#efe4fb"}, "encoding": {"x2": {"field": "t2"}, "y2": {"field": "v2"}}},
     {"data": {"name": "rules"}, "transform": [{"filter": "datum.p==='R1'"}], "mark": {"type": "rule", "color": "#888", "strokeWidth": 1, "strokeDash": [2, 1]}, "encoding": {"y2": {"field": "v2"}}},
     {"data": {"name": "traces"}, "transform": [{"filter": "datum.p==='R1'"}], "mark": {"type": "line", "strokeWidth": 1.4}, "encoding": {"color": {"field": "s", "type": "nominal", "scale": {"domain": ["r", "o", "p", "b"], "range": ["#b5453d", "#e88d4e", "#a357e6", "#3c3cff"]}, "legend": null}}},
     {"data": {"name": "markers"}, "transform": [{"filter": "datum.p==='R1'"}], "mark": {"type": "point", "shape": "triangle-right", "filled": true, "color": "#000", "size": 14, "opacity": 1}}
    ]}
  ]},
 {"width": 624, "height": 282, "title": {"text": "p-Cresol-sulfate"},
  "resolve": {"scale": {"x": "independent", "y": "independent"}},
  "layer": [
   {"encoding": {
     "x": {"field": "t", "type": "quantitative", "scale": {"domain": [1.0, 2.4], "range": [29, 296], "nice": false, "zero": false}, "axis": {"orient": "bottom", "offset": -15, "tickCount": 14, "labelExpr": "abs(datum.value/0.2-round(datum.value/0.2))<0.001?datum.label:''", "tickSize": {"condition": {"test": "abs(datum.value/0.2-round(datum.value/0.2))<0.001", "value": 3}, "value": 1.5}, "title": "Retention Time"}},
     "y": {"field": "v", "type": "quantitative", "scale": {"domain": [0, 350], "range": [267, 36], "nice": false, "zero": false}, "axis": {"orient": "left", "offset": -29, "tickCount": 35, "labelExpr": "abs(datum.value/50-round(datum.value/50))<0.001?datum.label:''", "tickSize": {"condition": {"test": "abs(datum.value/50-round(datum.value/50))<0.001", "value": 3}, "value": 1.5}, "title": "Intensity (x10^3)"}}},
    "layer": [
     {"data": {"name": "shades"}, "transform": [{"filter": "datum.p==='R2'"}], "mark": {"type": "rect", "color": "#efe4fb"}, "encoding": {"x2": {"field": "t2"}, "y2": {"field": "v2"}}},
     {"data": {"name": "rules"}, "transform": [{"filter": "datum.p==='R2'"}], "mark": {"type": "rule", "color": "#888", "strokeWidth": 1, "strokeDash": [2, 1]}, "encoding": {"y2": {"field": "v2"}}},
     {"data": {"name": "traces"}, "transform": [{"filter": "datum.p==='R2'"}], "mark": {"type": "line", "strokeWidth": 1.4}, "encoding": {"color": {"field": "s", "type": "nominal", "scale": {"domain": ["r", "o", "p", "b"], "range": ["#b5453d", "#e88d4e", "#a357e6", "#3c3cff"]}, "legend": null}}},
     {"data": {"name": "markers"}, "transform": [{"filter": "datum.p==='R2'"}], "mark": {"type": "point", "shape": "triangle-right", "filled": true, "color": "#000", "size": 14, "opacity": 1}}
    ]},
   {"encoding": {
     "x": {"field": "t", "type": "quantitative", "scale": {"domain": [1.5, 3.2], "range": [351, 617], "nice": false, "zero": false}, "axis": {"orient": "bottom", "offset": -15, "tickCount": 17, "labelExpr": "abs(datum.value/0.2-round(datum.value/0.2))<0.001?datum.label:''", "tickSize": {"condition": {"test": "abs(datum.value/0.2-round(datum.value/0.2))<0.001", "value": 3}, "value": 1.5}, "title": "Retention Time"}},
     "y": {"field": "v", "type": "quantitative", "scale": {"domain": [0, 8], "range": [267, 36], "nice": false, "zero": false}, "axis": {"orient": "left", "offset": -351, "tickCount": 40, "labelExpr": "abs(datum.value/1-round(datum.value/1))<0.001?datum.label:''", "tickSize": {"condition": {"test": "abs(datum.value/1-round(datum.value/1))<0.001", "value": 3}, "value": 1.5}, "title": "Intensity (x10^5)"}}},
    "layer": [
     {"data": {"name": "shades"}, "transform": [{"filter": "datum.p==='R2b'"}], "mark": {"type": "rect", "color": "#efe4fb"}, "encoding": {"x2": {"field": "t2"}, "y2": {"field": "v2"}}},
     {"data": {"name": "rules"}, "transform": [{"filter": "datum.p==='R2b'"}], "mark": {"type": "rule", "color": "#888", "strokeWidth": 1, "strokeDash": [2, 1]}, "encoding": {"y2": {"field": "v2"}}},
     {"data": {"name": "traces"}, "transform": [{"filter": "datum.p==='R2b'"}], "mark": {"type": "line", "strokeWidth": 1.4}, "encoding": {"color": {"field": "s", "type": "nominal", "scale": {"domain": ["r", "o", "p", "b"], "range": ["#b5453d", "#e88d4e", "#a357e6", "#3c3cff"]}, "legend": null}}},
     {"data": {"name": "markers"}, "transform": [{"filter": "datum.p==='R2b'"}], "mark": {"type": "point", "shape": "triangle-right", "filled": true, "color": "#000", "size": 14, "opacity": 1}}
    ]}
  ]},
 {"width": 624, "height": 288, "title": {"text": "Pyridoxic acid"},
  "resolve": {"scale": {"x": "independent", "y": "independent"}},
  "layer": [
   {"encoding": {
     "x": {"field": "t", "type": "quantitative", "scale": {"domain": [1.0, 2.2], "range": [30, 304], "nice": false, "zero": false}, "axis": {"orient": "bottom", "offset": -14, "tickCount": 12, "labelExpr": "abs(datum.value/0.2-round(datum.value/0.2))<0.001?datum.label:''", "tickSize": {"condition": {"test": "abs(datum.value/0.2-round(datum.value/0.2))<0.001", "value": 3}, "value": 1.5}, "title": "Retention Time"}},
     "y": {"field": "v", "type": "quantitative", "scale": {"domain": [0, 2], "range": [274, 36], "nice": false, "zero": false}, "axis": {"orient": "left", "offset": -30, "tickCount": 20, "labelExpr": "abs(datum.value/0.5-round(datum.value/0.5))<0.001?datum.label:''", "tickSize": {"condition": {"test": "abs(datum.value/0.5-round(datum.value/0.5))<0.001", "value": 3}, "value": 1.5}, "title": "Intensity (x10^3)"}}},
    "layer": [
     {"data": {"name": "shades"}, "transform": [{"filter": "datum.p==='R3'"}], "mark": {"type": "rect", "color": "#efe4fb"}, "encoding": {"x2": {"field": "t2"}, "y2": {"field": "v2"}}},
     {"data": {"name": "rules"}, "transform": [{"filter": "datum.p==='R3'"}], "mark": {"type": "rule", "color": "#888", "strokeWidth": 1, "strokeDash": [2, 1]}, "encoding": {"y2": {"field": "v2"}}},
     {"data": {"name": "traces"}, "transform": [{"filter": "datum.p==='R3'"}], "mark": {"type": "line", "strokeWidth": 1.4}, "encoding": {"color": {"field": "s", "type": "nominal", "scale": {"domain": ["r", "o", "p", "b"], "range": ["#b5453d", "#e88d4e", "#a357e6", "#3c3cff"]}, "legend": null}}},
     {"data": {"name": "markers"}, "transform": [{"filter": "datum.p==='R3'"}], "mark": {"type": "point", "shape": "triangle-right", "filled": true, "color": "#000", "size": 14, "opacity": 1}}
    ]},
   {"encoding": {
     "x": {"field": "t", "type": "quantitative", "scale": {"domain": [1.0, 2.2], "range": [352, 620], "nice": false, "zero": false}, "axis": {"orient": "bottom", "offset": -21, "tickCount": 12, "labelExpr": "abs(datum.value/0.2-round(datum.value/0.2))<0.001?datum.label:''", "tickSize": {"condition": {"test": "abs(datum.value/0.2-round(datum.value/0.2))<0.001", "value": 3}, "value": 1.5}, "title": "Retention Time"}},
     "y": {"field": "v", "type": "quantitative", "scale": {"domain": [0, 5], "range": [267, 36], "nice": false, "zero": false}, "axis": {"orient": "left", "offset": -352, "tickCount": 25, "labelExpr": "abs(datum.value/1-round(datum.value/1))<0.001?datum.label:''", "tickSize": {"condition": {"test": "abs(datum.value/1-round(datum.value/1))<0.001", "value": 3}, "value": 1.5}, "title": "Intensity (x10^5)"}}},
    "layer": [
     {"data": {"name": "shades"}, "transform": [{"filter": "datum.p==='R3b'"}], "mark": {"type": "rect", "color": "#efe4fb"}, "encoding": {"x2": {"field": "t2"}, "y2": {"field": "v2"}}},
     {"data": {"name": "rules"}, "transform": [{"filter": "datum.p==='R3b'"}], "mark": {"type": "rule", "color": "#888", "strokeWidth": 1, "strokeDash": [2, 1]}, "encoding": {"y2": {"field": "v2"}}},
     {"data": {"name": "traces"}, "transform": [{"filter": "datum.p==='R3b'"}], "mark": {"type": "line", "strokeWidth": 1.4}, "encoding": {"color": {"field": "s", "type": "nominal", "scale": {"domain": ["r", "o", "p", "b"], "range": ["#b5453d", "#e88d4e", "#a357e6", "#3c3cff"]}, "legend": null}}},
     {"data": {"name": "markers"}, "transform": [{"filter": "datum.p==='R3b'"}], "mark": {"type": "point", "shape": "triangle-right", "filled": true, "color": "#000", "size": 14, "opacity": 1}}
    ]}
  ]},
 {"width": 624, "height": 277, "title": {"text": "Suberic acid"},
  "layer": [
   {"encoding": {
     "x": {"field": "t", "type": "quantitative", "scale": {"domain": [1.0, 2.4], "range": [30, 296], "nice": false, "zero": false}, "axis": {"orient": "bottom", "offset": -10, "tickCount": 14, "labelExpr": "abs(datum.value/0.2-round(datum.value/0.2))<0.001?datum.label:''", "tickSize": {"condition": {"test": "abs(datum.value/0.2-round(datum.value/0.2))<0.001", "value": 3}, "value": 1.5}, "title": "Retention Time"}},
     "y": {"field": "v", "type": "quantitative", "scale": {"domain": [0, 2], "range": [267, 37], "nice": false, "zero": false}, "axis": {"orient": "left", "offset": -30, "tickCount": 20, "labelExpr": "abs(datum.value/0.5-round(datum.value/0.5))<0.001?datum.label:''", "tickSize": {"condition": {"test": "abs(datum.value/0.5-round(datum.value/0.5))<0.001", "value": 3}, "value": 1.5}, "title": "Intensity (x10^3)"}}},
    "layer": [
     {"data": {"name": "shades"}, "transform": [{"filter": "datum.p==='R4'"}], "mark": {"type": "rect", "color": "#efe4fb"}, "encoding": {"x2": {"field": "t2"}, "y2": {"field": "v2"}}},
     {"data": {"name": "rules"}, "transform": [{"filter": "datum.p==='R4'"}], "mark": {"type": "rule", "color": "#888", "strokeWidth": 1, "strokeDash": [2, 1]}, "encoding": {"y2": {"field": "v2"}}},
     {"data": {"name": "traces"}, "transform": [{"filter": "datum.p==='R4'"}], "mark": {"type": "line", "strokeWidth": 1.4}, "encoding": {"color": {"field": "s", "type": "nominal", "scale": {"domain": ["r", "o", "p", "b"], "range": ["#b5453d", "#e88d4e", "#a357e6", "#3c3cff"]}, "legend": null}}},
     {"data": {"name": "markers"}, "transform": [{"filter": "datum.p==='R4'"}], "mark": {"type": "point", "shape": "triangle-right", "filled": true, "color": "#000", "size": 14, "opacity": 1}}
    ]}
  ]}
], "spacing": 0, "bounds": "flush"}
],
"config": {
 "view": {"stroke": "#000", "strokeWidth": 2},
 "concat": {"spacing": 0},
 "title": {"anchor": "start", "frame": "group", "offset": -30, "baseline": "alphabetic", "dx": 14, "fontSize": 26, "fontWeight": "normal", "font": "Liberation Sans", "color": "#000"},
 "axis": {"labelFontSize": 4, "labelFont": "Liberation Sans", "titleFontSize": 4, "titleFont": "Liberation Sans", "titleFontWeight": "normal", "labelColor": "#666", "titleColor": "#555", "domainColor": "#666", "tickColor": "#777", "labelPadding": 1, "titlePadding": 2, "grid": false, "labelOverlap": false, "labelFlush": false}
}
}
